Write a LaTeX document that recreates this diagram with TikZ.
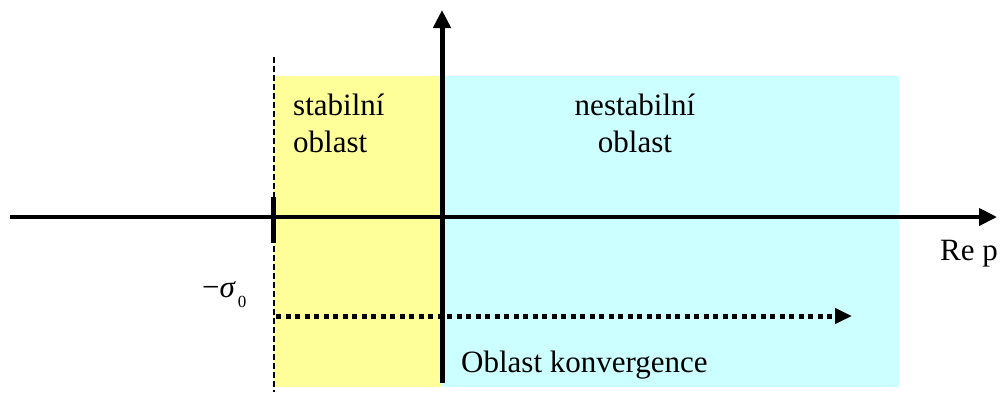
\documentclass[tikz,border=0pt]{standalone}
\usepackage{fontspec}
\setmainfont{Liberation Serif}
\usetikzlibrary{arrows.meta}
\definecolor{stabyellow}{HTML}{FFFF99}
\definecolor{nestcyan}{HTML}{CCFFFF}
\begin{document}
\begin{tikzpicture}[x=1pt,y=-1pt,
  lbl/.style={inner sep=0pt,font=\fontsize{31}{37}\selectfont},
  axis/.style={line width=4pt,-{Triangle[length=18pt,width=17pt]}},
  conv/.style={line width=5pt,dash pattern=on 5pt off 4.5pt,-{Triangle[length=17pt,width=15pt]}}]
\useasboundingbox (0,0) rectangle (1001,392);
% regions
\fill[stabyellow] (274,76) rectangle (442,387);
\fill[nestcyan] (442,76) rectangle (899,387);
% coordinates
\coordinate (hs) at (10,217);
\coordinate (he) at (997,217);
\coordinate (vs) at (442,383);
\coordinate (ve) at (442,10);
\coordinate (ds) at (274,57);
\coordinate (de) at (274,392);
\coordinate (ts) at (273,197);
\coordinate (te) at (273,243);
\coordinate (cs) at (276,316);
\coordinate (ce) at (852,316);
% dashed boundary
\draw[line width=1.3pt,dash pattern=on 6pt off 3pt] (ds) -- (de);
% axes
\draw[axis] (hs) -- (he);
\draw[axis,line width=5pt] (vs) -- (ve);
% tick
\draw[line width=5pt] (ts) -- (te);
% convergence arrow
\draw[conv] (cs) -- (ce);
% labels
\node[lbl,anchor=base west,align=left] (stab) at (293,152) {stabilní\\oblast};
\node[lbl,anchor=base,align=center] (nest) at (635,152) {nestabilní\\oblast};
\node[lbl,anchor=base west] (rep) at (940,260) {Re p};
\node[lbl,anchor=base west] (sig) at (202,297) {−\textit{σ}\hspace{2pt}\raisebox{-10pt}{\fontsize{17}{17}\selectfont 0}};
\node[lbl,anchor=base west] (konv) at (461,372) {Oblast konvergence};
\end{tikzpicture}
\end{document}
